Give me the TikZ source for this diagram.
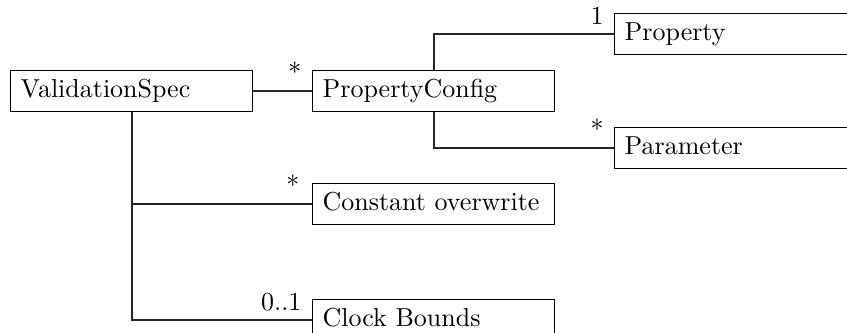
\documentclass[tikz,border=0pt]{standalone}
\begin{document}
\begin{tikzpicture}[x=0.385pt,y=-0.385pt,
  umlbox/.style={draw, line width=0.45pt, anchor=west, minimum height=15.6pt,
    text width=85.4pt, inner xsep=3.9pt, inner ysep=0pt, align=left,
    text height=6.9pt, text depth=1.9pt},
  mult/.style={anchor=base east, inner sep=0pt},
  conn/.style={line width=0.45pt, draw=black!85}]
\useasboundingbox (0,0) rectangle (847,333);
\clip (0,0) rectangle (847,333);
\node[umlbox] (vs) at (10,91) {ValidationSpec};
\node[umlbox] (pc) at (312,91) {PropertyConfig};
\node[umlbox] (prop) at (614,34) {Property};
\node[umlbox] (par) at (614,148) {Parameter};
\node[umlbox] (co) at (312,204) {Constant overwrite};
\node[umlbox] (cb) at (312,320) {Clock Bounds};
\coordinate (vsx) at (132,0);
\coordinate (pcx) at (434,0);
\draw[conn] (vs.east) -- (pc.west);
\draw[conn] (pc.north -| pcx) |- (prop.west);
\draw[conn] (pc.south -| pcx) |- (par.west);
\draw[conn] (vs.south -| vsx) |- (cb.west);
\draw[conn] (co.west -| vsx) -- (co.west);
\node[mult] (m1) at ([shift={(-10,-9)}]pc.west) {*};
\node[mult] (m2) at ([shift={(-10,-9)}]prop.west) {1};
\node[mult] (m3) at ([shift={(-10,-9)}]par.west) {*};
\node[mult] (m4) at ([shift={(-12,-9)}]co.west) {*};
\node[mult] (m5) at ([shift={(-10,-9)}]cb.west) {0..1};
\end{tikzpicture}
\end{document}
